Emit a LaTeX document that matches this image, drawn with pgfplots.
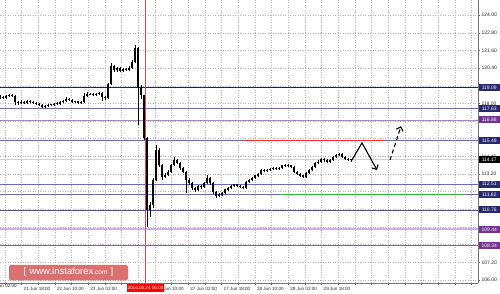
\documentclass[border=0pt]{standalone}
\usepackage{pgfplots}
\pgfplotsset{compat=1.18}
\usepackage{pgfplotstable}
\usetikzlibrary{arrows.meta}
\usepackage{fontspec}
\setmainfont{Liberation Sans}
\definecolor{lnavy}{HTML}{1F1F6E}
\definecolor{lblue}{HTML}{6A6AB8}
\definecolor{ldblue}{HTML}{545499}
\definecolor{lpurp}{HTML}{A784C4}
\definecolor{llav}{HTML}{CDB0E6}
\definecolor{lmag}{HTML}{8E5BB0}
\definecolor{boxnavy}{HTML}{27276F}
\definecolor{boxpurp}{HTML}{76309A}
\definecolor{vred}{HTML}{E04848}
\definecolor{lvred}{HTML}{FF2A2A}
\definecolor{lvgreen}{HTML}{2DB82D}
\definecolor{wmark}{HTML}{D96464}
\definecolor{gridc}{HTML}{B0B0B0}
\pgfplotstableread{
x o h l c
0 118.36 118.55 118.28 118.43
3 118.43 118.52 118.28 118.36
6 118.36 118.60 118.30 118.50
9 118.50 118.66 118.44 118.57
12 118.57 118.64 118.42 118.50
15 118.50 118.55 117.89 118.09
18 118.09 118.18 117.92 118.02
21 118.02 118.20 117.95 118.09
24 118.09 118.16 117.94 118.02
27 118.02 118.25 117.96 118.16
30 118.16 118.22 118.00 118.09
33 118.09 118.14 117.94 118.02
36 118.02 118.10 117.88 117.96
39 117.96 118.02 117.80 117.89
42 117.89 117.95 117.66 117.75
45 117.75 117.90 117.70 117.82
48 117.82 117.98 117.76 117.89
51 117.89 117.98 117.80 117.92
54 117.92 118.04 117.83 117.96
57 117.96 118.06 117.88 117.99
60 117.99 118.16 117.90 118.09
63 118.09 118.24 118.02 118.16
66 118.16 118.40 118.10 118.30
69 118.30 118.36 118.15 118.23
72 118.23 118.28 118.02 118.09
75 118.09 118.18 118.00 118.12
78 118.12 118.14 117.95 118.02
81 118.02 118.18 117.96 118.09
84 118.09 118.72 118.00 118.50
87 118.50 118.74 118.44 118.64
90 118.64 118.72 118.55 118.60
93 118.60 118.70 118.50 118.57
96 118.57 118.72 118.52 118.64
99 118.64 118.78 118.58 118.70
102 118.70 118.74 118.16 118.43
105 118.43 118.50 118.20 118.36
108 118.36 119.40 118.30 119.31
111 119.31 120.75 119.25 120.54
114 120.54 120.60 120.10 120.27
117 120.27 120.50 120.15 120.40
120 120.40 120.46 120.10 120.20
123 120.20 120.42 120.12 120.33
126 120.33 120.40 120.18 120.27
129 120.27 120.52 120.20 120.40
132 120.40 120.95 120.35 120.81
135 120.81 121.96 120.74 121.76
138 121.76 121.80 116.53 119.04
141 119.04 119.25 118.30 118.57
144 118.57 118.60 115.50 115.65
147 115.65 115.70 109.60 110.76
150 110.76 111.30 110.28 111.09
153 111.09 112.90 110.90 112.79
156 112.79 115.17 112.70 114.83
159 114.83 114.95 113.70 113.81
162 113.81 113.90 112.80 113.00
165 113.00 113.30 112.90 113.13
168 113.13 113.45 113.05 113.34
171 113.34 113.90 113.25 113.81
174 113.81 114.36 113.75 114.15
177 114.15 114.22 113.85 113.95
180 113.95 114.00 113.50 113.61
183 113.61 113.70 113.25 113.34
186 113.34 113.40 111.91 112.79
189 112.79 112.90 112.45 112.59
192 112.59 112.65 112.10 112.25
195 112.25 112.35 111.98 112.12
198 112.12 112.48 112.02 112.39
201 112.39 112.45 112.20 112.32
204 112.32 112.68 112.25 112.59
207 112.59 113.10 112.50 112.93
210 112.93 113.00 112.45 112.59
213 112.59 112.65 111.85 111.98
216 111.98 112.05 111.60 111.71
219 111.71 111.90 111.62 111.78
222 111.78 112.00 111.70 111.91
225 111.91 112.20 111.85 112.12
228 112.12 112.35 112.05 112.25
231 112.25 112.48 112.18 112.39
234 112.39 112.55 112.30 112.46
237 112.46 112.52 112.30 112.39
240 112.39 112.45 112.22 112.32
243 112.32 112.38 112.15 112.25
246 112.25 112.75 112.20 112.66
249 112.66 112.88 112.58 112.79
252 112.79 113.02 112.70 112.93
255 112.93 113.15 112.85 113.07
258 113.07 113.30 113.00 113.20
261 113.20 113.56 113.12 113.47
264 113.47 113.55 113.32 113.41
267 113.41 113.56 113.34 113.47
270 113.47 113.62 113.40 113.54
273 113.54 113.70 113.48 113.61
276 113.61 113.68 113.46 113.54
279 113.54 113.70 113.48 113.61
282 113.61 113.84 113.55 113.75
285 113.75 113.90 113.68 113.81
288 113.81 113.88 113.66 113.75
291 113.75 113.80 113.60 113.68
294 113.68 113.72 113.25 113.34
297 113.34 113.40 113.12 113.20
300 113.20 113.28 112.98 113.07
303 113.07 113.15 112.90 113.00
306 113.00 113.36 112.95 113.27
309 113.27 113.56 113.20 113.47
312 113.47 113.76 113.40 113.68
315 113.68 114.04 113.60 113.95
318 113.95 114.12 113.88 114.02
321 114.02 114.30 113.95 114.22
324 114.22 114.30 114.05 114.15
327 114.15 114.20 113.94 114.02
330 114.02 114.24 113.95 114.15
333 114.15 114.45 114.08 114.36
336 114.36 114.58 114.30 114.49
339 114.49 114.65 114.42 114.56
342 114.56 114.62 114.28 114.36
345 114.36 114.42 114.15 114.22
348 114.22 114.28 114.08 114.15
351 114.15 114.24 114.06 114.17
}\bars
\begin{document}
\begin{tikzpicture}
\useasboundingbox (0pt,0pt) rectangle (500pt,293pt);
\begin{axis}[
  at={(0pt,10pt)}, anchor=south west, scale only axis,
  width=478pt, height=283pt,
  xmin=0, xmax=478, ymin=105.796, ymax=125.022,
  axis x line*=bottom, axis y line*=right,
  axis line style={draw=black!55, line width=0.6pt, -},
  xtick={5,21.67,38.33,55,71.67,88.33,105,121.67,138.33,155,171.67,188.33,205,221.67,238.33,255,271.67,288.33,305,321.67,338.33,355,371.67,388.33,405,421.67,438.33,455,471.67},
  xticklabels={,21 Jun 18:00,,22 Jun 10:00,,23 Jun 02:00,,,,24 Jun 10:00,,27 Jun 02:00,,27 Jun 18:00,,28 Jun 10:00,,29 Jun 02:00,,29 Jun 18:00,,,,,,,,,},
  ytick={106,107.2,108.4,109.6,110.8,112,113.2,114.4,115.6,116.8,118,119.2,120.4,121.6,122.8,124},
  yticklabels={106.00,107.20,,,,,113.20,114.40,,,118.00,,120.40,121.60,122.80,124.00},
  tick align=outside, major tick length=1.5pt,
  tick style={draw=black!60, line width=0.4pt},
  xticklabel style={font=\fontsize{4.6}{5}\selectfont, text=black!85, anchor=north west, xshift=-1.5pt, yshift=0.5pt},
  yticklabel style={font=\fontsize{5}{6}\selectfont, text=black!85, anchor=west, xshift=-1.5pt},
  grid=major,
  major grid style={gridc, dash pattern=on 1pt off 1.5pt, line width=0.4pt},
]
% current price line
\addplot[black!18, line width=0.8pt, forget plot] coordinates {(0,114.17) (478,114.17)};
% levels
\addplot[lnavy, line width=0.8pt] coordinates {(0,119.09) (478,119.09)};
\addplot[lblue, line width=0.7pt] coordinates {(0,117.63) (478,117.63)};
\addplot[lpurp, line width=0.7pt] coordinates {(0,116.88) (478,116.88)};
\addplot[lblue, line width=0.7pt] coordinates {(0,115.49) (478,115.49)};
\addplot[lblue, line width=0.7pt] coordinates {(0,112.51) (478,112.51)};
\addplot[lblue, line width=0.7pt] coordinates {(0,111.82) (478,111.82)};
\addplot[ldblue, line width=0.7pt] coordinates {(0,110.76) (478,110.76)};
\addplot[llav, line width=1.8pt] coordinates {(0,109.44) (478,109.44)};
\addplot[lmag, line width=0.8pt] coordinates {(0,108.34) (478,108.34)};
% red vertical line
\addplot[vred, line width=0.6pt] coordinates {(145.5,105.796) (145.5,125.022)};
% resistance / support
\addplot[lvred, line width=1.4pt] coordinates {(243,115.49) (384,115.49)};
\addplot[lvgreen, line width=1.4pt] coordinates {(278,111.82) (462,111.82)};
% candle wicks
\addplot[draw=none, mark=none, error bars/.cd, y dir=plus, y explicit, error mark=none,
  error bar style={draw=black, line width=0.6pt}]
  table[x=x, y=l, y error plus expr={\thisrow{h}-\thisrow{l}}] {\bars};
% candle bodies
\addplot[draw=none, mark=none, error bars/.cd, y dir=plus, y explicit, error mark=none,
  error bar style={draw=black, line width=2.1pt}]
  table[x=x, y expr={min(\thisrow{o},\thisrow{c})}, y error plus expr={abs(\thisrow{c}-\thisrow{o})+0.03}] {\bars};
% forecast arrows
\addplot[black, line width=1.1pt, -{Straight Barb[length=3.5pt,width=7pt]}] coordinates {(351,114.05) (362,115.31) (377,113.47)};
\addplot[black, line width=1.1pt, dash pattern=on 4pt off 3pt, -{Straight Barb[length=3.5pt,width=7pt]}] coordinates {(390,114.15) (401,116.45)};
% anchors for labels
\coordinate (vl) at (axis cs:145.5,105.796);
\coordinate (A) at (axis cs:478,119.09);
\coordinate (B) at (axis cs:478,117.63);
\coordinate (C) at (axis cs:478,116.88);
\coordinate (D) at (axis cs:478,115.49);
\coordinate (E) at (axis cs:478,114.17);
\coordinate (F) at (axis cs:478,112.51);
\coordinate (G) at (axis cs:478,111.82);
\coordinate (H) at (axis cs:478,110.76);
\coordinate (I) at (axis cs:478,109.44);
\coordinate (J) at (axis cs:478,108.34);
\end{axis}
\tikzset{pbox/.style={anchor=west, inner sep=0pt, minimum width=20.5pt, minimum height=7pt, text=white, font=\fontsize{5}{6}\selectfont, xshift=0.8pt}}
\node[pbox, fill=boxnavy] at (A) {119.09};
\node[pbox, fill=boxnavy] at (B) {117.63};
\node[pbox, fill=boxpurp] at (C) {116.88};
\node[pbox, fill=boxnavy] at (D) {115.49};
\node[pbox, fill=black] at (E) {114.17};
\node[pbox, fill=boxnavy] at (F) {112.51};
\node[pbox, fill=boxnavy] at (G) {111.82};
\node[pbox, fill=boxnavy] at (H) {110.76};
\node[pbox, fill=boxpurp] at (I) {109.44};
\node[pbox, fill=boxpurp] at (J) {108.34};
\node[anchor=north, fill=red, text=white, inner sep=0.8pt, minimum height=8pt, font=\fontsize{4.6}{5}\selectfont, yshift=-0.3pt] at (vl) {2016.06.24 05:00};
\node[anchor=north west, font=\fontsize{4.6}{5}\selectfont, text=black!85, inner sep=0pt] at (-10pt,8.5pt) {21 Jun 02:00};
% watermark
\node[fill=wmark, fill opacity=0.92, text opacity=1, rounded corners=1.5pt, minimum width=119pt, minimum height=15.5pt, inner sep=0pt, text=white, font=\fontsize{9.5}{10}\selectfont] at (68.5pt,20.5pt) {[\,\,www.instaforex{\fontsize{6.5}{7}\selectfont.com}\,\,]};
\end{tikzpicture}
\end{document}
